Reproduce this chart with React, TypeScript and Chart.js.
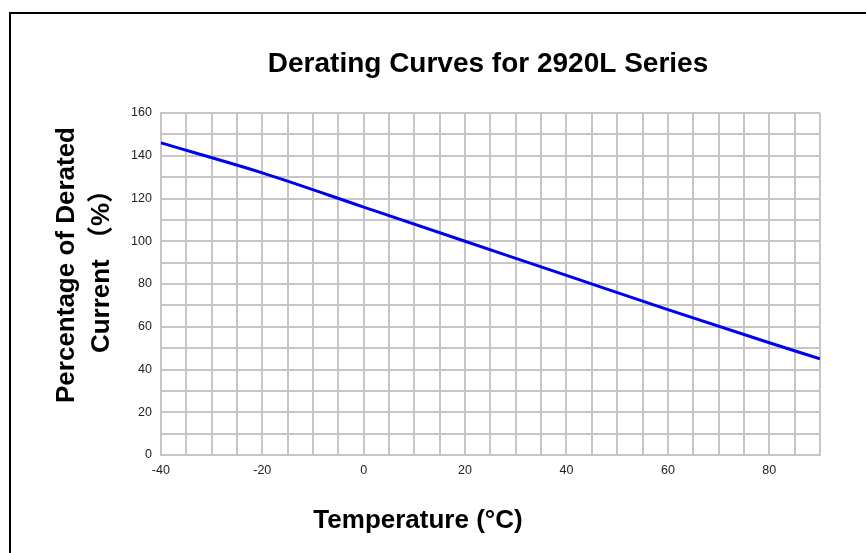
import React, { useEffect, useRef } from "react";
import { Chart, registerables } from "chart.js";

Chart.register(...registerables);

const chartTitle = "Derating Curves for 2920L Series";
const xAxisTitle = "Temperature (°C)";
const yAxisTitleLines = ["Percentage of Derated", "Current （%）"];

const temperatures = [-40, -20, 0, 20, 40, 60, 80, 90];
const deratingPercent = [146, 132, 116, 100, 84, 68, 52.5, 45];

const xMin = -40;
const xMax = 90;
const xStep = 5;
const xLabelEvery = 20;
const yMin = 0;
const yMax = 160;
const yStep = 10;
const yLabelEvery = 20;

const FONT = '"Liberation Sans", Arial, "Noto Sans CJK SC", sans-serif';

const decorPlugin = {
  id: "decor",
  beforeDraw(chart: any) {
    const ctx = chart.ctx;
    ctx.save();
    ctx.fillStyle = "#ffffff";
    ctx.fillRect(0, 0, chart.width, chart.height);
    ctx.restore();
  },
  afterDraw(chart: any) {
    const ctx = chart.ctx;
    ctx.save();
    // frame
    ctx.fillStyle = "#000000";
    ctx.fillRect(9, 12, chart.width - 9, 2);
    ctx.fillRect(9, 12, 2, chart.height - 12);

    ctx.fillStyle = "#000000";
    ctx.textAlign = "center";
    ctx.textBaseline = "alphabetic";
    // main title
    ctx.font = `bold 28px ${FONT}`;
    ctx.fillText(chartTitle, 488, 72);
    // x title
    ctx.font = `bold 26px ${FONT}`;
    ctx.fillText(xAxisTitle, 418, 528);
    // y title
    const baselines = [73.5, 108.5];
    yAxisTitleLines.forEach((line, i) => {
      ctx.save();
      ctx.translate(baselines[i], 265);
      ctx.rotate(-Math.PI / 2);
      ctx.fillText(line, 0, 0);
      ctx.restore();
    });
    ctx.restore();
  },
};

export default function App() {
  const canvasRef = useRef<HTMLCanvasElement | null>(null);

  useEffect(() => {
    if (!canvasRef.current) return;
    const gridColor = "#c6c6c6";
    const chart = new Chart(canvasRef.current, {
      type: "line",
      data: {
        datasets: [
          {
            label: "Derating",
            data: temperatures.map((t, i) => ({ x: t, y: deratingPercent[i] })),
            borderColor: "#0000ee",
            borderWidth: 3,
            pointRadius: 0,
            fill: false,
            cubicInterpolationMode: "monotone",
          },
        ],
      },
      options: {
        animation: false,
        responsive: false,
        layout: { padding: { left: 122, top: 113, right: 46, bottom: 67 } },
        plugins: {
          legend: { display: false },
          tooltip: { enabled: false },
          title: { display: false },
        },
        scales: {
          x: {
            type: "linear",
            min: xMin,
            max: xMax,
            grid: { color: gridColor, lineWidth: 2, drawTicks: false },
            border: { display: true, color: gridColor, width: 2 },
            ticks: {
              stepSize: xStep,
              autoSkip: false,
              maxRotation: 0,
              padding: 8,
              color: "#222222",
              font: { family: FONT, size: 12.5 },
              callback: (v: any) =>
                Number(v) % xLabelEvery === 0 ? String(v) : "",
            },
          },
          y: {
            min: yMin,
            max: yMax,
            grid: { color: gridColor, lineWidth: 2, drawTicks: false },
            border: { display: true, color: gridColor, width: 2 },
            ticks: {
              stepSize: yStep,
              autoSkip: false,
              padding: 9,
              color: "#222222",
              font: { family: FONT, size: 12.5 },
              callback: (v: any) =>
                Number(v) % yLabelEvery === 0 ? String(v) : "",
            },
          },
        },
      },
      plugins: [decorPlugin],
    });
    return () => chart.destroy();
  }, []);

  return (
    <div style={{ position: "fixed", left: 0, top: 0, width: 866, height: 553, background: "#fff" }}>
      <canvas ref={canvasRef} width={866} height={553} style={{ display: "block" }} />
    </div>
  );
}
